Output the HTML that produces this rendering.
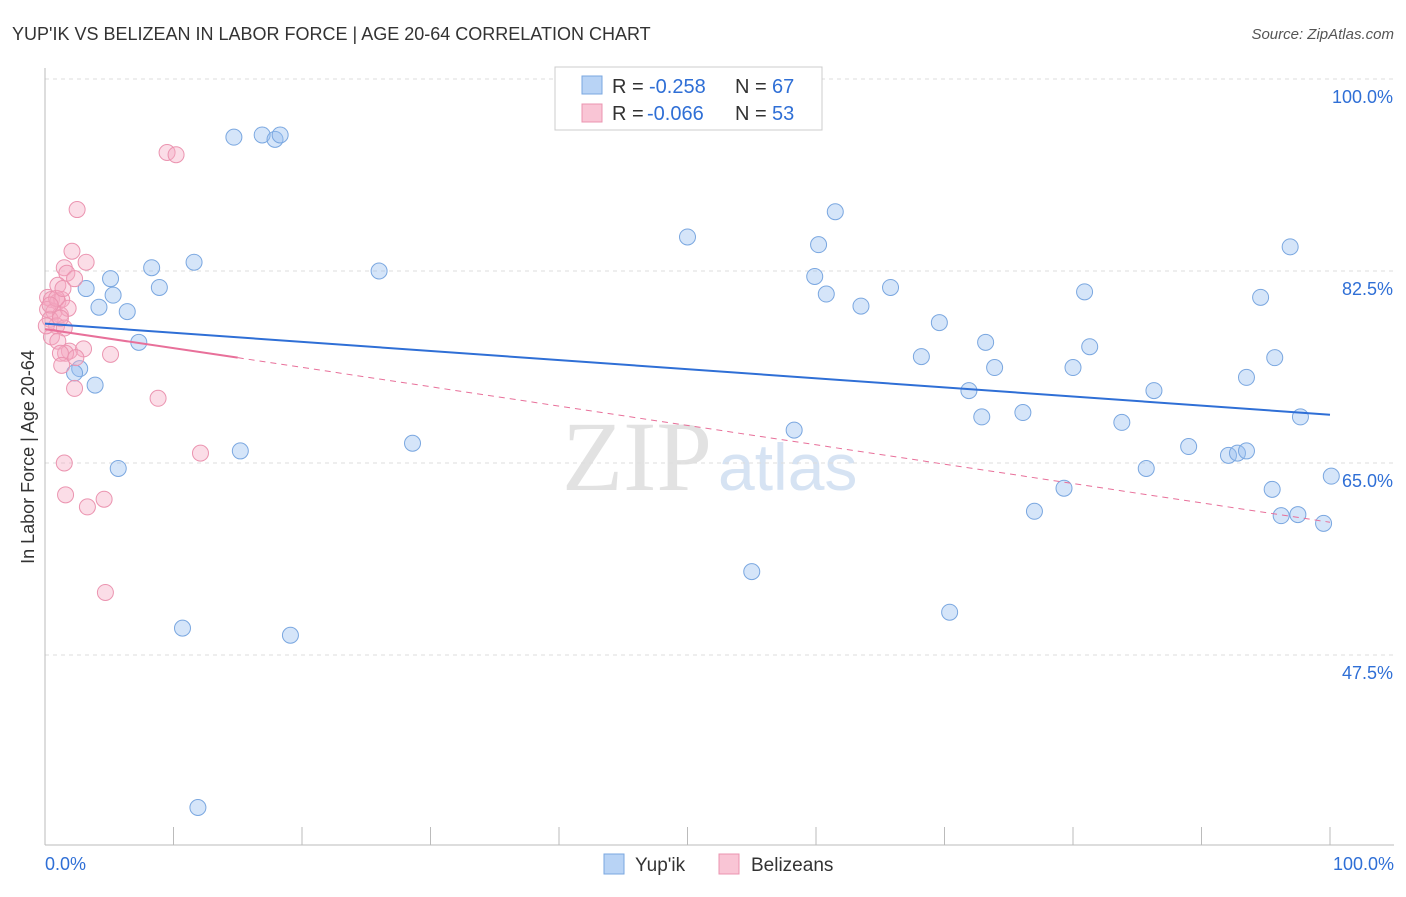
<!DOCTYPE html>
<html><head><meta charset="utf-8"><style>
body{margin:0;background:#fff;font-family:"Liberation Sans",sans-serif;}
svg text{font-family:"Liberation Sans",sans-serif;}
</style></head><body>
<svg id="chart" width="1406" height="892">
<text x="12" y="40" font-size="18" fill="#333">YUP'IK VS BELIZEAN IN LABOR FORCE | AGE 20-64 CORRELATION CHART</text>
<text x="1394" y="39" font-size="15" fill="#555" text-anchor="end" font-style="italic">Source: ZipAtlas.com</text>
<text x="712" y="490" font-size="100" fill="#e2e2e2" text-anchor="end" style="font-family:'Liberation Serif',serif">ZIP</text>
<text x="718" y="490" font-size="66" fill="#d6e3f3">atlas</text>
<g id="grid"></g><g id="axes"></g>
<text transform="translate(34,457) rotate(-90)" font-size="18" fill="#333" text-anchor="middle">In Labor Force | Age 20-64</text>
<g id="pts"></g><g id="lines"></g>
<g>
<rect x="555" y="67" width="267" height="63" fill="#fff" stroke="#ccc"/>
<rect x="582" y="76" width="20" height="18" fill="#b8d3f5" stroke="#7aa7e0"/>
<rect x="582" y="104" width="20" height="18" fill="#f9c5d5" stroke="#eb94b0"/>
<text x="612" y="93" font-size="20" fill="#333">R =</text><text x="649" y="93" font-size="20" fill="#2f6fd6">-0.258</text>
<text x="735" y="93" font-size="20" fill="#333">N =</text><text x="772" y="93" font-size="20" fill="#2f6fd6">67</text>
<text x="612" y="120" font-size="20" fill="#333">R =</text><text x="647" y="120" font-size="20" fill="#2f6fd6">-0.066</text>
<text x="735" y="120" font-size="20" fill="#333">N =</text><text x="772" y="120" font-size="20" fill="#2f6fd6">53</text>
</g>
<g>
<rect x="604" y="854" width="20" height="20" fill="#b8d3f5" stroke="#7aa7e0"/>
<text x="635" y="871" font-size="19" fill="#333">Yup'ik</text>
<rect x="719" y="854" width="20" height="20" fill="#f9c5d5" stroke="#eb94b0"/>
<text x="751" y="871" font-size="19" fill="#333">Belizeans</text>
</g>
</svg>
<script>
const yTicks=[100,82.5,65,47.5];
const yTickLabels=["100.0%","82.5%","65.0%","47.5%"];
const xTicks=[0,10,20,30,40,50,60,70,80,90,100];
const blueX=[41.6,14.7,16.9,17.9,18.3,61.5,50.0,60.2,96.9,11.6,8.3,26.0,5.1,3.2,8.9,5.3,4.2,6.4,59.9,60.8,65.8,63.5,80.9,94.6,69.6,73.2,81.3,7.3,68.2,95.7,2.7,2.3,73.9,80.0,3.9,71.9,86.3,93.5,76.1,72.9,83.8,97.7,28.6,58.3,15.2,89.0,92.1,92.8,93.5,5.7,85.7,100.1,79.3,95.5,77.0,96.2,97.5,99.5,55.0,70.4,10.7,19.1,11.9];
const blueY=[100,94.7,94.9,94.5,94.9,87.9,85.6,84.9,84.7,83.3,82.8,82.5,81.8,80.9,81.0,80.3,79.2,78.8,82.0,80.4,81.0,79.3,80.6,80.1,77.8,76.0,75.6,76.0,74.7,74.6,73.6,73.2,73.7,73.7,72.1,71.6,71.6,72.8,69.6,69.2,68.7,69.2,66.8,68.0,66.1,66.5,65.7,65.9,66.1,64.5,64.5,63.8,62.7,62.6,60.6,60.2,60.3,59.5,55.1,51.4,49.95,49.3,33.6];
const pinkX=[9.5,10.2,2.5,2.1,3.2,1.5,1.7,2.3,1.0,0.2,0.5,1.0,1.3,0.2,0.7,1.2,1.8,0.4,0.9,1.5,0.5,1.0,1.9,1.6,3.0,5.1,2.4,1.2,1.3,2.3,8.8,12.1,1.5,1.6,4.6,3.3,4.7,0.9,0.4,1.4,1.2,0.1];
const pinkY=[93.3,93.1,88.1,84.3,83.3,82.8,82.3,81.8,81.2,80.1,79.9,79.7,79.9,79.0,78.8,78.5,79.1,78.1,77.5,77.3,76.5,76.1,75.2,75.0,75.4,74.9,74.6,75.0,73.9,71.8,70.9,65.9,65.0,62.1,61.7,61.0,53.2,80.0,79.4,80.9,78.2,77.5];
const blueLine=[77.7,69.4];
const pinkLine=[77.2,74.6,59.6];
const NS="http://www.w3.org/2000/svg";
const X=v=>45+v*12.85, Y=v=>79+(100-v)*192/17.5;
function mk(t,a,p){const e=document.createElementNS(NS,t);for(const k in a)e.setAttribute(k,a[k]);document.getElementById(p).appendChild(e);return e;}
yTicks.forEach((t,i)=>{
const g=mk('line',{x1:45,x2:1394,y1:Y(t),y2:Y(t),stroke:'#ddd','stroke-dasharray':'4,4'},'grid');


const l=mk('text',{x:1393,y:Y(t)+24,'font-size':18,fill:'#2f6fd6','text-anchor':'end'},'axes');
l.textContent=yTickLabels[i];


});
mk('line',{x1:45,x2:45,y1:68,y2:845,stroke:'#bbb'},'axes');
mk('line',{x1:45,x2:1394,y1:845,y2:845,stroke:'#bbb'},'axes');
xTicks.forEach(t=>{const k=mk('line',{x1:X(t),x2:X(t),y1:827,y2:845,stroke:'#bbb'},'axes');

});
const x0=mk('text',{x:45,y:870,'font-size':18,fill:'#2f6fd6'},'axes');x0.textContent='0.0%';


const x1=mk('text',{x:1394,y:870,'font-size':18,fill:'#2f6fd6','text-anchor':'end'},'axes');x1.textContent='100.0%';


blueX.forEach((v,i)=>{const c=mk('circle',{cx:X(v),cy:Y(blueY[i]),r:8,fill:'rgba(150,190,240,0.4)',stroke:'#7aa7e0','stroke-width':1},'pts');

});
pinkX.forEach((v,i)=>{const c=mk('circle',{cx:X(v),cy:Y(pinkY[i]),r:8,fill:'rgba(245,170,195,0.4)',stroke:'#eb94b0','stroke-width':1},'pts');

});
const bl=mk('line',{x1:X(0),y1:Y(blueLine[0]),x2:X(100),y2:Y(blueLine[1]),stroke:'#2f6fd6','stroke-width':2},'lines');


const pl=mk('line',{x1:X(0),y1:Y(pinkLine[0]),x2:X(15),y2:Y(pinkLine[1]),stroke:'#e8709a','stroke-width':2},'lines');


const pd=mk('line',{x1:X(15),y1:Y(pinkLine[1]),x2:X(100),y2:Y(pinkLine[2]),stroke:'#e8709a','stroke-width':1,'stroke-dasharray':'6,5'},'lines');


</script>
</body></html>
